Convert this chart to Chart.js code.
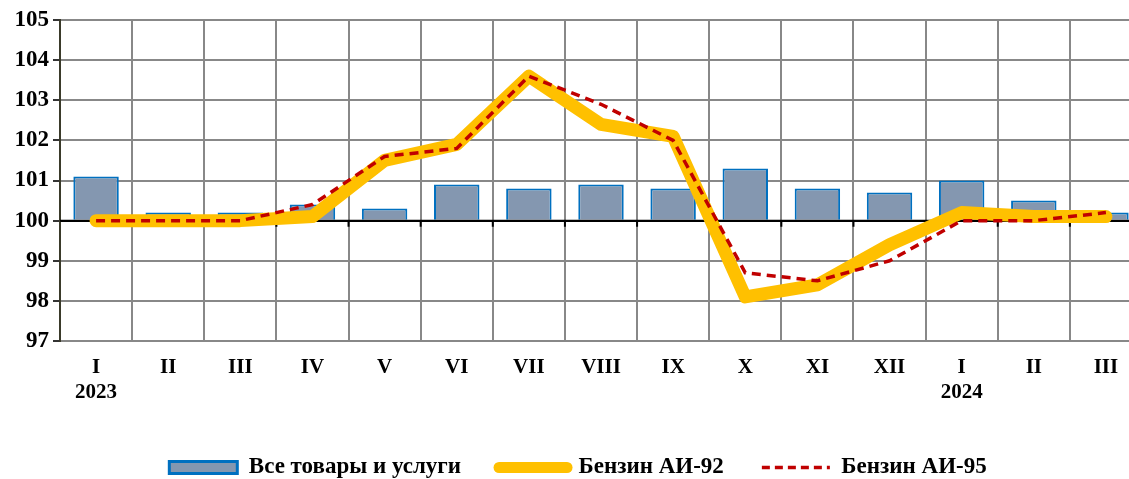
<!DOCTYPE html>
<html>
<head>
<meta charset="utf-8">
<script src="https://cdn.jsdelivr.net/npm/chart.js@4/dist/chart.umd.min.js"></script>
<style>
  html, body { margin: 0; padding: 0; background: #fff; overflow: hidden; }
  #wrap { width: 1142px; height: 479px; }
</style>
</head>
<body>
<div id="wrap"><canvas id="priceChart" width="1142" height="479"></canvas></div>
<script>
const months = ["I", "II", "III", "IV", "V", "VI", "VII", "VIII", "IX", "X", "XI", "XII", "I", "II", "III"];
const years = ["2023", "", "", "", "", "", "", "", "", "", "", "", "2024", "", ""];
const allGoods = [101.1, 100.2, 100.2, 100.4, 100.3, 100.9, 100.8, 100.9, 100.8, 101.3, 100.8, 100.7, 101.0, 100.5, 100.2];
const petrol92 = [100.0, 100.0, 100.0, 100.1, 101.5, 101.9, 103.6, 102.4, 102.1, 98.1, 98.4, 99.4, 100.2, 100.1, 100.1];
const petrol95 = [100.0, 100.0, 100.0, 100.4, 101.6, 101.8, 103.6, 102.9, 102.0, 98.7, 98.5, 99.0, 100.0, 100.0, 100.2];

const serif = "'Liberation Serif', 'Times New Roman', serif";

// black base line at 100 with small tick marks, drawn just over the bars
const baseLine = {
  id: "baseLine",
  afterDatasetDraw(chart, args) {
    if (args.index !== 0) return;
    const { ctx, chartArea, scales } = chart;
    const y = scales.y.getPixelForValue(100);
    ctx.save();
    ctx.strokeStyle = "#000";
    ctx.lineWidth = 2;
    ctx.beginPath();
    ctx.moveTo(chartArea.left, y);
    ctx.lineTo(chartArea.right, y);
    for (let i = 1; i < months.length; i++) {
      const x = (scales.x.getPixelForValue(i - 1) + scales.x.getPixelForValue(i)) / 2;
      ctx.moveTo(x, y);
      ctx.lineTo(x, y + 6);
    }
    ctx.stroke();
    ctx.restore();
  }
};

const ctx = document.getElementById("priceChart").getContext("2d");
new Chart(ctx, {
  data: {
    labels: months.map((m, i) => years[i] ? [m, years[i]] : m),
    datasets: [
      {
        type: "bar",
        label: "Все товары и услуги",
        data: allGoods,
        base: 100,
        backgroundColor: "#8497B0",
        borderColor: "#0070C0",
        borderWidth: 2,
        barPercentage: 0.63,
        categoryPercentage: 1,
        order: 3
      },
      {
        type: "line",
        label: "Бензин АИ-92",
        data: petrol92,
        borderColor: "#FFC000",
        backgroundColor: "#FFC000",
        borderWidth: 13,
        borderCapStyle: "round",
        borderJoinStyle: "round",
        pointRadius: 0,
        tension: 0,
        order: 2
      },
      {
        type: "line",
        label: "Бензин АИ-95",
        data: petrol95,
        borderColor: "#C00000",
        backgroundColor: "#C00000",
        borderWidth: 3.5,
        borderDash: [9, 6],
        pointRadius: 0,
        tension: 0,
        order: 1
      }
    ]
  },
  options: {
    responsive: false,
    animation: false,
    layout: { padding: { left: 14, right: 0, top: 20, bottom: -10 } },
    plugins: {
      tooltip: { enabled: false },
      legend: {
        position: "bottom",
        labels: {
          usePointStyle: true,
          pointStyleWidth: 68,
          boxHeight: 12,
          padding: 38,
          color: "#000",
          font: { family: serif, size: 23, weight: "bold" },
          generateLabels: chart => [
            { text: "Все товары и услуги", pointStyle: "rect", fillStyle: "#8497B0", strokeStyle: "#0070C0", lineWidth: 3, datasetIndex: 0, fontColor: "#000" },
            { text: "Бензин АИ-92", pointStyle: "line", fillStyle: "#FFC000", strokeStyle: "#FFC000", lineWidth: 11, lineCap: "round", datasetIndex: 1, fontColor: "#000" },
            { text: "Бензин АИ-95", pointStyle: "line", fillStyle: "#C00000", strokeStyle: "#C00000", lineWidth: 3.5, lineDash: [8, 5], lineCap: "butt", datasetIndex: 2, fontColor: "#000" }
          ]
        }
      }
    },
    scales: {
      x: {
        offset: true,
        grid: { offset: true, color: "#888", lineWidth: 2, drawTicks: false },
        border: { color: "#888", width: 2 },
        ticks: {
          color: "#000",
          padding: 14,
          maxRotation: 0,
          autoSkip: false,
          font: { family: serif, size: 21, weight: "bold" }
        },
        afterFit: scale => { scale.height = 77; }
      },
      y: {
        min: 97,
        max: 105,
        ticks: {
          stepSize: 1,
          color: "#000",
          padding: 4,
          font: { family: serif, size: 23, weight: "bold" }
        },
        grid: {
          color: c => c.tick && c.tick.value === 100 ? "#000" : "#888",
          lineWidth: 2,
          tickLength: 7,
          tickColor: "#333"
        },
        border: { color: "#3a3a2a", width: 2 },
        afterFit: scale => { scale.width = 46; }
      }
    }
  },
  plugins: [baseLine]
});
</script>
</body>
</html>
